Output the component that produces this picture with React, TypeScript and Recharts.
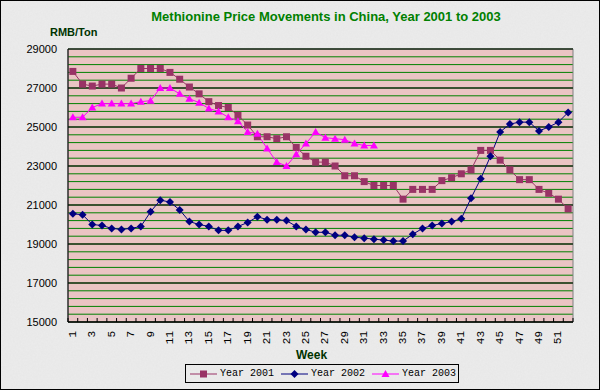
import { CartesianGrid, Line, LineChart, ReferenceArea, ReferenceLine, XAxis, YAxis } from "recharts";

const weeks = Array.from({ length: 52 }, (_, i) => i + 1);

const year2001 = [
  27850, 27200, 27100, 27200, 27200, 27000, 27500, 28000, 28000, 28000, 27800, 27450, 27050,
  26700, 26300, 26100, 26000, 25600, 25100, 24500, 24500, 24400, 24500, 23950, 23500, 23200,
  23200, 23000, 22500, 22500, 22200, 22000, 22000, 22000, 21300, 21800, 21800, 21800, 22250,
  22400, 22600, 22800, 23800, 23800, 23300, 22800, 22300, 22300, 21800, 21600, 21300, 20800,
];

const year2002 = [
  20550, 20500, 20000, 19950, 19800, 19750, 19800, 19900, 20650, 21250, 21150, 20750, 20150,
  20000, 19900, 19700, 19700, 19900, 20100, 20400, 20250, 20250, 20200, 19900, 19750, 19600,
  19600, 19450, 19450, 19350, 19300, 19250, 19200, 19150, 19150, 19500, 19800, 19950, 20050,
  20150, 20300, 21350, 22350, 23500, 24750, 25150, 25250, 25250, 24800, 25000, 25250, 25750,
];

const year2003 = [
  25500, 25500, 26000, 26200, 26200, 26200, 26200, 26300, 26350, 27000, 27000, 26700, 26450,
  26250, 25950, 25800, 25500, 25300, 24750, 24650, 23900, 23200, 23000, 23600, 24150, 24750,
  24450, 24400, 24350, 24150, 24050, 24050,
];

const yMin = 15000;
const yMax = 29000;
const minorStep = 400;
const majorStep = 2000;

const yTicks = Array.from({ length: (yMax - yMin) / minorStep + 1 }, (_, i) => yMin + i * minorStep);
const yMajors = yTicks.filter((v) => (v - yMin) % majorStep === 0);
// tick marks sit between weeks, labels on odd weeks
const xTicks = [
  ...Array.from({ length: 53 }, (_, i) => i + 0.5),
  ...weeks.filter((w) => w % 2 === 1),
].sort((a, b) => a - b);

const data = weeks.map((w, i) => ({
  week: w,
  y2001: year2001[i],
  y2002: year2002[i],
  y2003: i < year2003.length ? year2003[i] : null,
}));

const C2001 = "#993366";
const C2002 = "#000080";
const C2003 = "#ff00ff";

const Square = (p: any) =>
  p.cx == null || p.cy == null ? null : (
    <rect key={p.key} x={p.cx - 3.5} y={p.cy - 3.5} width={7} height={7} fill={C2001} />
  );

const Diamond = (p: any) =>
  p.cx == null || p.cy == null ? null : (
    <polygon
      key={p.key}
      points={`${p.cx},${p.cy - 4} ${p.cx + 4},${p.cy} ${p.cx},${p.cy + 4} ${p.cx - 4},${p.cy}`}
      fill={C2002}
    />
  );

const Triangle = (p: any) =>
  p.cx == null || p.cy == null ? null : (
    <polygon
      key={p.key}
      points={`${p.cx},${p.cy - 4} ${p.cx + 4},${p.cy + 3} ${p.cx - 4},${p.cy + 3}`}
      fill={C2003}
    />
  );

const XTick = (props: any) => {
  const { x, y, payload } = props;
  const v = payload.value;
  if (v % 1 !== 0) {
    return <line x1={x} x2={x} y1={y - 4} y2={y} stroke="#000" />;
  }
  return (
    <text
      x={x}
      y={y + 9}
      transform={`rotate(-90 ${x} ${y + 9})`}
      textAnchor="end"
      dominantBaseline="central"
      fontFamily="Liberation Mono"
      fontSize={11}
      fill="#000"
    >
      {v}
    </text>
  );
};

const YTick = (props: any) => {
  const { x, y, payload } = props;
  const v = payload.value;
  if ((v - yMin) % majorStep !== 0) return <g />;
  return (
    <text
      x={x - 11}
      y={y}
      textAnchor="end"
      dominantBaseline="central"
      fontFamily="Liberation Sans"
      fontSize={11}
      fill="#000"
    >
      {v}
    </text>
  );
};

const legendItems = [
  { name: "Year 2001", color: C2001, mark: "square" },
  { name: "Year 2002", color: C2002, mark: "diamond" },
  { name: "Year 2003", color: C2003, mark: "triangle" },
];

function LegendMark({ color, mark }: { color: string; mark: string }) {
  return (
    <svg width={27} height={10} style={{ display: "block" }}>
      <line x1={0} x2={27} y1={5} y2={5} stroke={color} />
      {mark === "square" && <rect x={10} y={1.5} width={7} height={7} fill={color} />}
      {mark === "diamond" && <polygon points="13.5,1 17.5,5 13.5,9 9.5,5" fill={color} />}
      {mark === "triangle" && <polygon points="13.5,1 17.5,8 9.5,8" fill={color} />}
    </svg>
  );
}

export default function App() {
  return (
    <div
      style={{
        position: "absolute",
        left: 0,
        top: 0,
        width: 600,
        height: 390,
        background: "#e8e8e8",
        fontFamily: "Liberation Sans",
      }}
    >
      {/* grey marble-ish backdrop */}
      <svg width={600} height={390} style={{ position: "absolute", left: 0, top: 0 }}>
        <filter id="marble">
          <feTurbulence type="fractalNoise" baseFrequency="0.6" numOctaves={2} seed={3} />
          <feColorMatrix type="matrix" values="0 0 0 0 0.55  0 0 0 0 0.55  0 0 0 0 0.55  0 0 0 0.35 0" />
        </filter>
        <rect width={600} height={390} fill="#ececec" />
        <rect width={600} height={390} filter="url(#marble)" opacity={0.35} />
      </svg>

      <div
        style={{
          position: "absolute",
          left: 0,
          top: 9,
          width: 652,
          textAlign: "center",
          color: "#008000",
          fontWeight: "bold",
          fontSize: 13,
        }}
      >
        Methionine Price Movements in China, Year 2001 to 2003
      </div>
      <div
        style={{
          position: "absolute",
          left: 50,
          top: 26,
          color: "#003300",
          fontWeight: "bold",
          fontSize: 11,
        }}
      >
        RMB/Ton
      </div>

      <div style={{ position: "absolute", left: 0, top: 0 }}>
        <LineChart width={600} height={390} data={data} margin={{ top: 49, right: 27, bottom: 0, left: 0 }}>
          <CartesianGrid horizontal vertical={false} stroke="#008000" fill="#eac4c4" fillOpacity={1} />
          {yMajors.map((v) => (
            <ReferenceLine key={v} y={v} stroke="#000" />
          ))}
          <ReferenceArea x1={0.5} x2={52.5} y1={yMin} y2={yMax} fill="none" stroke="#808080" />
          <XAxis
            dataKey="week"
            type="number"
            domain={[0.5, 52.5]}
            ticks={xTicks}
            interval={0}
            height={68}
            tickSize={0}
            tickMargin={0}
            tick={<XTick />}
            axisLine={{ stroke: "#000" }}
            tickLine={false}
          />
          <YAxis
            type="number"
            domain={[yMin, yMax]}
            ticks={yTicks}
            interval={0}
            width={68}
            tickSize={0}
            tickMargin={0}
            tick={<YTick />}
            axisLine={{ stroke: "#000" }}
            tickLine={false}
          />
          <Line
            dataKey="y2001"
            stroke={C2001}
            strokeWidth={1}
            dot={Square}
            activeDot={false}
            isAnimationActive={false}
          />
          <Line
            dataKey="y2002"
            stroke={C2002}
            strokeWidth={1}
            dot={Diamond}
            activeDot={false}
            isAnimationActive={false}
          />
          <Line
            dataKey="y2003"
            stroke={C2003}
            strokeWidth={1}
            dot={Triangle}
            activeDot={false}
            isAnimationActive={false}
          />
        </LineChart>
      </div>

      <div
        style={{
          position: "absolute",
          left: 296,
          top: 348,
          color: "#003300",
          fontWeight: "bold",
          fontSize: 12,
        }}
      >
        Week
      </div>

      <div
        style={{
          position: "absolute",
          left: 185,
          top: 364,
          width: 274,
          height: 19,
          border: "1px solid #000",
          display: "flex",
          alignItems: "center",
          gap: 7,
          paddingLeft: 4,
          boxSizing: "border-box",
          whiteSpace: "nowrap",
        }}
      >
        {legendItems.map((it) => (
          <div key={it.name} style={{ display: "flex", alignItems: "center", gap: 3 }}>
            <LegendMark color={it.color} mark={it.mark} />
            <span style={{ fontFamily: "Liberation Mono", fontSize: 10, color: "#000" }}>{it.name}</span>
          </div>
        ))}
      </div>

      <div
        style={{
          position: "absolute",
          left: 0,
          top: 0,
          width: 600,
          height: 390,
          border: "1px solid #000",
          boxSizing: "border-box",
          pointerEvents: "none",
        }}
      />
    </div>
  );
}
